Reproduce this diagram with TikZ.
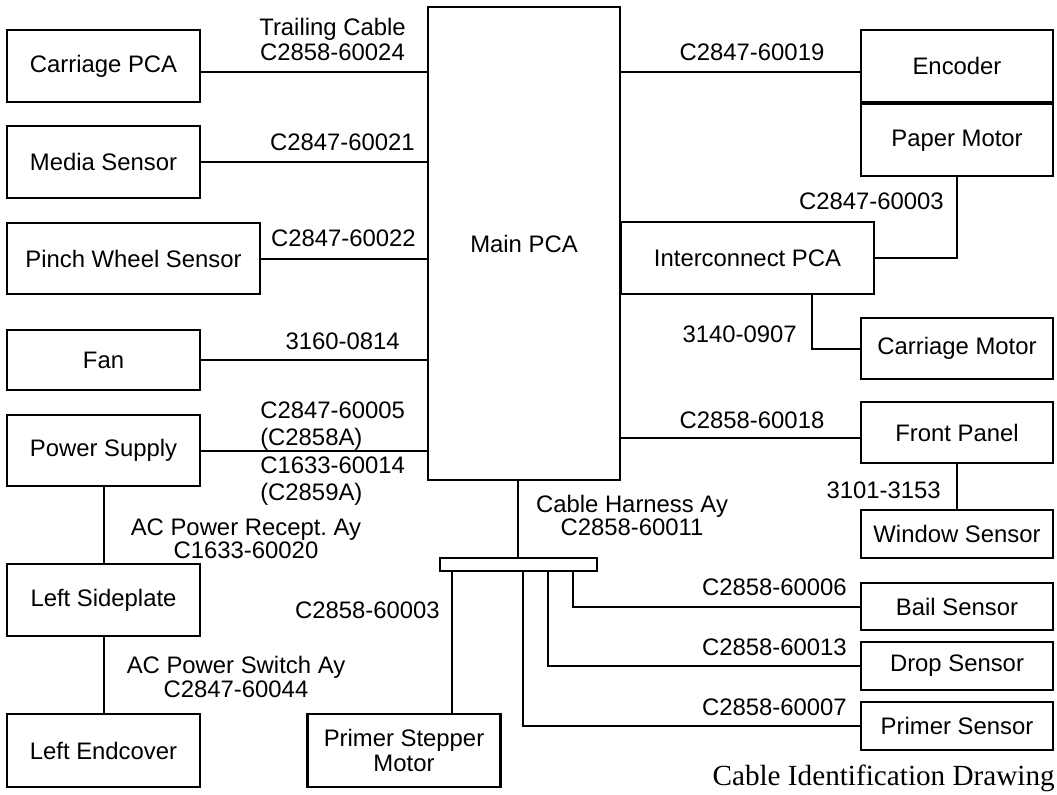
\documentclass[tikz,border=0pt]{standalone}
\usepackage{fontspec}
\setmainfont{Liberation Sans}
\newfontfamily\titleserif{Liberation Serif}
\usetikzlibrary{positioning}

\begin{document}
\begin{tikzpicture}[x=0.75pt, y=-0.75pt,
    unit/.style={rectangle, draw=black, line width=1.7pt, text centered, inner sep=2pt, font=\fontsize{17.9}{18.75}\selectfont},
    boxsize/.style 2 args={minimum width=#1*0.75pt, minimum height=#2*0.75pt},
    wire/.style={line width=1.5pt},
    partno/.style={inner sep=0pt, font=\fontsize{17.9}{18.75}\selectfont}
]
    \useasboundingbox (0,0) rectangle (1057,794);

    % Left side units
    \node[unit, boxsize={193}{72}] (carriage) at (103.5,66) {Carriage PCA};
    \node[unit, boxsize={193}{72}] (media) at (103.5,162) {Media Sensor};
    \node[unit, boxsize={253}{71}] (pinch) at (133.5,258.5) {Pinch Wheel Sensor};
    \node[unit, boxsize={193}{60}] (fan) at (103.5,360) {Fan};
    \node[unit, boxsize={193}{71}] (power) at (103.5,450.5) {Power Supply};
    \node[unit, boxsize={193}{72}] (sideplate) at (103.5,600) {Left Sideplate};
    \node[unit, boxsize={193}{73}] (endcover) at (103.5,750.5) {Left Endcover};

    % Main PCA and cable harness
    \node[unit, boxsize={192}{473}] (main) at (524,243.5) {Main PCA};
    \node[draw, line width=1.5pt, inner sep=0pt, boxsize={157}{13}] (harness) at (518.5,564.5) {};
    \node[unit, boxsize={193}{73}, align=center] (stepper) at (404,750.5) {Primer Stepper\\Motor};

    % Right side units
    \node[unit, boxsize={192}{72}] (encoder) at (957,66) {Encoder};
    \node[unit, boxsize={192}{72}, below=0pt of encoder] (paper) {Paper Motor};
    \node[unit, boxsize={253}{72}] (icpca) at (747.5,258) {Interconnect PCA};
    \node[unit, boxsize={192}{61}] (carmotor) at (957,348.5) {Carriage Motor};
    \node[unit, boxsize={192}{61}] (front) at (957,432.5) {Front Panel};
    \node[unit, boxsize={192}{48}] (window) at (957,534) {Window Sensor};
    \node[unit, boxsize={192}{47}] (bail) at (957,606.5) {Bail Sensor};
    \node[unit, boxsize={192}{48}] (drop) at (957,666) {Drop Sensor};
    \node[unit, boxsize={192}{48}] (primer) at (957,726) {Primer Sensor};

    % tap points
    \coordinate (trail) at (0,72);
    \coordinate (fpline) at (0,438);
    \coordinate (mainout) at (517.5,0);
    \coordinate (icout) at (812,0);
    \coordinate (tapstep) at (452,0);
    \coordinate (tapprim) at (523,0);
    \coordinate (tapdrop) at (548,0);
    \coordinate (tapbail) at (573,0);

    % Cables
    \draw[wire] (carriage.east |- trail) -- (main.west |- trail);
    \draw[wire] (media.east) -- (main.west |- media.east);
    \draw[wire] (pinch.east) -- (main.west |- pinch.east);
    \draw[wire] (fan.east) -- (main.west |- fan.east);
    \draw[wire] (power.east) -- (main.west |- power.east);
    \draw[wire] (power.south) -- (sideplate.north);
    \draw[wire] (sideplate.south) -- (endcover.north);
    \draw[wire] (main.east |- trail) -- (encoder.west |- trail);
    \draw[wire] (paper.south) |- (icpca.east);
    \draw[wire] (icpca.south -| icout) |- (carmotor.west);
    \draw[wire] (main.east |- fpline) -- (front.west |- fpline);
    \draw[wire] (front.south) -- (window.north);
    \draw[wire] (main.south -| mainout) -- (harness.north -| mainout);
    \draw[wire] (harness.south -| tapstep) -- (stepper.north -| tapstep);
    \draw[wire] (harness.south -| tapprim) |- (primer.west);
    \draw[wire] (harness.south -| tapdrop) |- (drop.west);
    \draw[wire] (harness.south -| tapbail) |- (bail.west);

    % Part numbers (multi-line: base is the last line)
    \node[partno, align=center, anchor=base] (ltrail) at (332.5,60) {Trailing Cable\\C2858-60024};
    \node[partno, anchor=base east] (lmedia) at (415,150) {C2847-60021};
    \node[partno, anchor=base east] (lpinch) at (416,246) {C2847-60022};
    \node[partno, anchor=base east] (lfan) at (400,349) {3160-0814};
    \node[partno, align=left, anchor=base west] (lpowa) at (260,445) {C2847-60005\\[1.5pt](C2858A)};
    \node[partno, align=left, anchor=base west] (lpowb) at (260,500) {C1633-60014\\[1.5pt](C2859A)};
    \node[partno, align=center, anchor=base] (lrecept) at (246,558) {AC Power Recept.\ Ay\\[-1.5pt]C1633-60020};
    \node[partno, align=center, anchor=base] (lswitch) at (236,697) {AC Power Switch Ay\\[-0.75pt]C2847-60044};
    \node[partno, anchor=base east] (lstep) at (440,618) {C2858-60003};
    \node[partno, align=center, anchor=base] (lharness) at (632,535) {Cable Harness Ay\\[-1.5pt]C2858-60011};
    \node[partno, anchor=base] (lenc) at (752,60) {C2847-60019};
    \node[partno, anchor=base east] (lpaper) at (944,209) {C2847-60003};
    \node[partno, anchor=base east] (lcarmot) at (797,342) {3140-0907};
    \node[partno, anchor=base] (lfront) at (752,428) {C2858-60018};
    \node[partno, anchor=base east] (lwindow) at (941,498) {3101-3153};
    \node[partno, anchor=base east] (lbail) at (847,595) {C2858-60006};
    \node[partno, anchor=base east] (ldrop) at (847,655) {C2858-60013};
    \node[partno, anchor=base east] (lprimer) at (847,715) {C2858-60007};

    \node[anchor=base east, inner sep=0pt, font=\titleserif\fontsize{21.9}{26}\selectfont] (title) at (1055,785) {Cable Identification Drawing};

\end{tikzpicture}
\end{document}
